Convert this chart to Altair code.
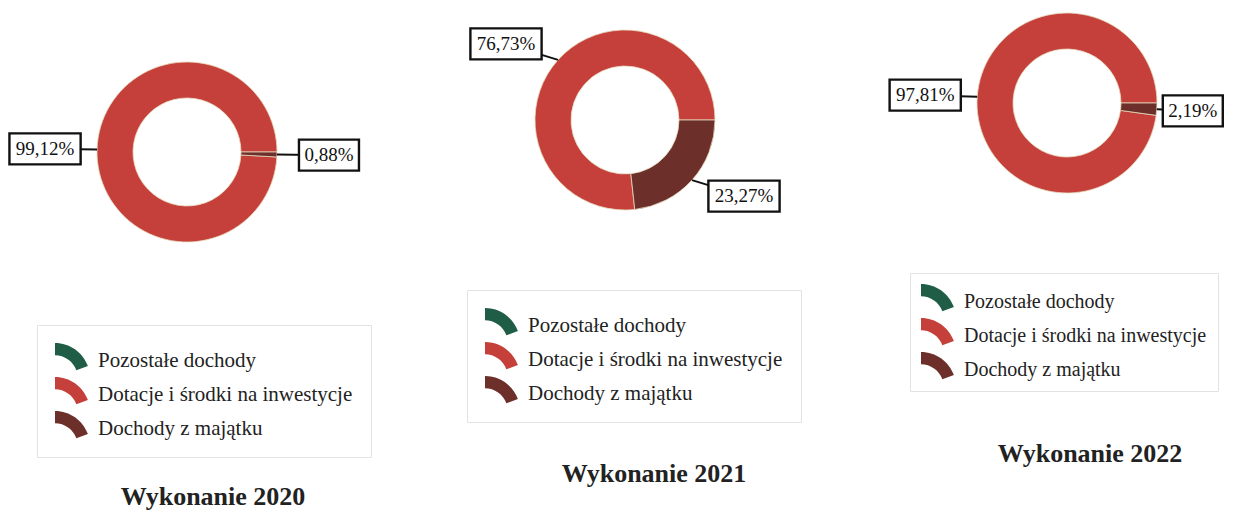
import math
import altair as alt
import pandas as pd

# ---- data ----
categories = ["Pozostałe dochody", "Dotacje i środki na inwestycje", "Dochody z majątku"]
colors = ["#1f5d46", "#c5403a", "#6c2f2a"]
years = ["2020", "2021", "2022"]
pozostale = [0.0, 0.0, 0.0]
dotacje = [99.12, 76.73, 97.81]
majatek = [0.88, 23.27, 2.19]
slice_order = [2, 1, 0]  # clockwise drawing order: majątek, dotacje, pozostałe

R_OUT, R_IN = 90, 54
FONT = "Liberation Serif"
ARC_PATH = "M -1 -1 A 2 2 0 0 1 0.88 0.32 L 0.22 0.56 A 1.3 1.3 0 0 0 -1 -0.3 Z"


def fmt(v):
    return f"{v:.2f}".replace(".", ",") + "%"


def panel(i, W, H, cx, cy, shift_l, shift_r, legx, legy, legpad, legfs, tx, ty):
    vals = [pozostale[i], dotacje[i], majatek[i]]
    df = pd.DataFrame({
        "kategoria": categories,
        "wartosc": vals,
        "kolejnosc": slice_order,
        "etykieta": [fmt(v) for v in vals],
    })
    xs = alt.Scale(domain=[-cx, W - cx])
    ys = alt.Scale(domain=[cy - H, cy])
    base = alt.Chart(df)

    donut = base.mark_arc(outerRadius=R_OUT, innerRadius=R_IN,
                          stroke="#e6d9bd", strokeWidth=0.8).encode(
        theta=alt.Theta("wartosc:Q", stack=True,
                        scale=alt.Scale(range=[math.pi / 2, 2.5 * math.pi])),
        color=alt.Color("kategoria:N",
                        scale=alt.Scale(domain=categories, range=colors),
                        legend=alt.Legend(title=None, orient="none",
                                          legendX=legx, legendY=legy,
                                          padding=legpad, labelFontSize=legfs)),
        order=alt.Order("kolejnosc:Q"),
        x=alt.XDatum(0, type="quantitative", scale=xs, axis=None),
        y=alt.YDatum(0, type="quantitative", scale=ys, axis=None),
    )

    lab = base.transform_filter("datum.wartosc > 0").transform_joinaggregate(
        suma="sum(wartosc)"
    ).transform_window(
        cum="sum(wartosc)", sort=[alt.SortField("kolejnosc")], frame=[None, 0]
    ).transform_calculate(
        kat="PI/2 + 2*PI*(datum.cum - datum.wartosc/2)/datum.suma"
    ).transform_calculate(
        lx=f"{R_OUT}*sin(datum.kat) + (sin(datum.kat) < 0 ? -{shift_l} : {shift_r})",
        ly="114*cos(datum.kat)",
        ex=f"{R_OUT}*sin(datum.kat)",
        ey=f"{R_OUT}*cos(datum.kat)",
        hw="5.6*length(datum.etykieta) + 2",
    ).transform_calculate(
        bx1="datum.lx - datum.hw",
        bx2="datum.lx + datum.hw",
        by1="datum.ly - 15.5",
        by2="datum.ly + 15.5",
    )

    leader = lab.mark_rule(color="#111", strokeWidth=2).encode(
        x=alt.X("ex:Q", scale=xs, axis=None),
        y=alt.Y("ey:Q", scale=ys, axis=None),
        x2="lx:Q", y2="ly:Q",
    )
    box = lab.mark_rect(fill="white", stroke="#111", strokeWidth=2.4).encode(
        x=alt.X("bx1:Q", scale=xs, axis=None),
        y=alt.Y("by1:Q", scale=ys, axis=None),
        x2="bx2:Q", y2="by2:Q",
    )
    text = lab.mark_text(font=FONT, fontSize=19, color="#111",
                         baseline="middle", align="center").encode(
        x=alt.X("lx:Q", scale=xs, axis=None),
        y=alt.Y("ly:Q", scale=ys, axis=None),
        text="etykieta:N",
    )
    title = alt.Chart(pd.DataFrame({"rok": [years[i]]})).transform_calculate(
        t="'Wykonanie ' + datum.rok"
    ).mark_text(font=FONT, fontSize=26, fontWeight="bold", color="#222",
                align="center", baseline="alphabetic").encode(
        x=alt.value(tx), y=alt.value(ty), text="t:N"
    )
    return alt.layer(donut, leader, box, text, title).properties(width=W, height=H)


H = 503
p1 = panel(0, 440, H, 179, 144, 52, 52, 29, 317, 18, 21, 205, 497)
p2 = panel(1, 440, H, 177, 112, 52, 52, 19, 282, 18, 21, 206, 474)
p3 = panel(2, 337, H, 179, 95, 52, 36, 22, 265, 11, 20, 202, 454)

chart = alt.hconcat(p1, p2, p3, spacing=0).resolve_scale(
    x="independent", y="independent", theta="independent"
).resolve_legend(color="independent").properties(
    padding=0, background="white"
).configure_view(stroke=None).configure_legend(
    labelFont=FONT, labelFontSize=21, labelColor="#222", labelLimit=400,
    symbolType=ARC_PATH, symbolSize=1225, symbolStrokeWidth=0, symbolOpacity=1,
    rowPadding=6, labelOffset=8,
    strokeColor="#e2e2e2", fillColor="white", cornerRadius=0,
)

chart.save("out.html", embed_options={"renderer": "svg", "actions": False})
